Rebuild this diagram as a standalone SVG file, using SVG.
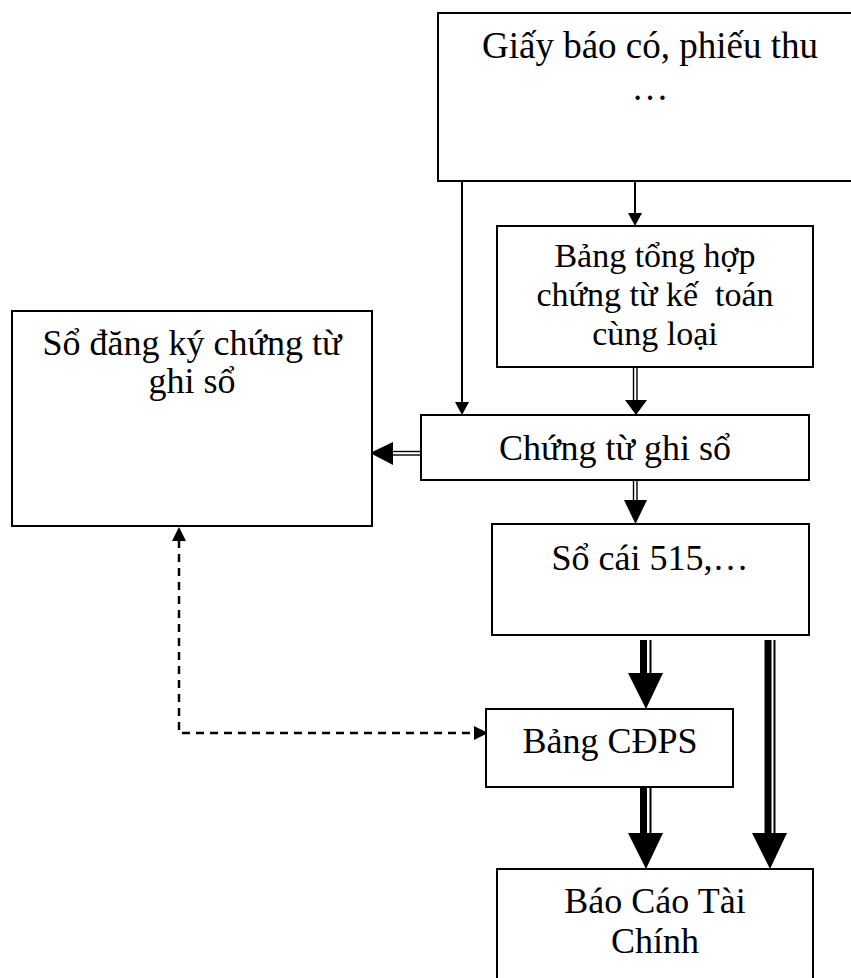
<svg xmlns="http://www.w3.org/2000/svg" width="851" height="978" viewBox="0 0 851 978">
<style>
.box{fill:#fff;stroke:#000;stroke-width:2}
.t{font-family:"Liberation Serif","Times New Roman",serif;font-size:36px;fill:#000;text-anchor:middle}
.ln{stroke:#000;stroke-width:2;fill:none}
.thin{stroke:#000;stroke-width:1.4;fill:none}
.thick{stroke:#000;stroke-width:7;fill:none}
.dash{stroke:#000;stroke-width:2.5;fill:none;stroke-dasharray:8 6}
.ah{fill:#000;stroke:none}
</style>
<rect width="851" height="978" fill="#fff"/>
<g id="connectors">
  <!-- top box to Chung tu ghi so -->
  <line class="ln" x1="462" y1="181" x2="462" y2="403"/>
  <polygon class="ah" points="455,402 469,402 462,415"/>
  <!-- top box to Bang tong hop -->
  <line class="ln" x1="635" y1="181" x2="635" y2="214"/>
  <polygon class="ah" points="628,213 642,213 635,226"/>
  <!-- Bang tong hop to Chung tu (double) -->
  <line class="thin" x1="633.5" y1="367" x2="633.5" y2="401"/>
  <line class="thin" x1="637" y1="367" x2="637" y2="401"/>
  <polygon class="ah" points="625,400 647,400 636,415"/>
  <!-- Chung tu to So cai (double) -->
  <line class="thin" x1="633.5" y1="480" x2="633.5" y2="501"/>
  <line class="thin" x1="637" y1="480" x2="637" y2="501"/>
  <polygon class="ah" points="624,500 647,500 635.5,524"/>
  <!-- Chung tu to So dang ky (double) -->
  <line class="thin" x1="392" y1="451.5" x2="421" y2="451.5"/>
  <line class="thin" x1="392" y1="455" x2="421" y2="455"/>
  <polygon class="ah" points="393,442 393,465 370,453"/>
  <!-- dashed two-way: So dang ky <-> Bang CDPS -->
  <path class="dash" d="M179,540 V733 H474"/>
  <polygon class="ah" points="172,541 186,541 179,527"/>
  <polygon class="ah" points="474,726 474,740 488,733"/>
  <!-- So cai to Bang CDPS (thick double) -->
  <line class="thick" x1="643.5" y1="640" x2="643.5" y2="674"/>
  <line class="ln" x1="650.5" y1="640" x2="650.5" y2="674"/>
  <polygon class="ah" points="628,673 663,673 646,709"/>
  <!-- Bang CDPS to Bao cao (thick double) -->
  <line class="thick" x1="643.5" y1="788" x2="643.5" y2="834"/>
  <line class="ln" x1="650.5" y1="788" x2="650.5" y2="834"/>
  <polygon class="ah" points="628,833 663,833 646,869"/>
  <!-- So cai to Bao cao (thick double, right) -->
  <line class="thick" x1="768" y1="640" x2="768" y2="834"/>
  <line class="ln" x1="774.5" y1="640" x2="774.5" y2="834"/>
  <polygon class="ah" points="752,833 787,833 770,869"/>
</g>
<g id="giay-bao-co">
  <rect class="box" x="438" y="13" width="430" height="168"/>
  <text class="t" x="650" y="58" style="font-size:37px">Giấy báo có, phiếu thu</text>
  <text class="t" x="650" y="100" style="font-size:37px">…</text>
</g>
<g id="bang-tong-hop">
  <rect class="box" x="497" y="226" width="316" height="141"/>
  <text class="t" x="655" y="267" style="font-size:34px">Bảng tổng hợp</text>
  <text class="t" x="655" y="306" style="font-size:34px" xml:space="preserve">chứng từ kế  toán</text>
  <text class="t" x="655" y="345" style="font-size:34px">cùng loại</text>
</g>
<g id="so-dang-ky">
  <rect class="box" x="12" y="311" width="360" height="215"/>
  <text class="t" x="192" y="355">Sổ đăng ký chứng từ</text>
  <text class="t" x="192" y="393">ghi sổ</text>
</g>
<g id="chung-tu-ghi-so">
  <rect class="box" x="421" y="415" width="388" height="65"/>
  <text class="t" x="615" y="460">Chứng từ ghi sổ</text>
</g>
<g id="so-cai">
  <rect class="box" x="492" y="524" width="317" height="111"/>
  <text class="t" x="650" y="570">Sổ cái 515,…</text>
</g>
<g id="bang-cdps">
  <rect class="box" x="486" y="709" width="247" height="78"/>
  <text class="t" x="610" y="753">Bảng CĐPS</text>
</g>
<g id="bao-cao-tai-chinh">
  <rect class="box" x="497" y="869" width="316" height="120"/>
  <text class="t" x="655" y="913">Báo Cáo Tài</text>
  <text class="t" x="655" y="953">Chính</text>
</g>
</svg>
